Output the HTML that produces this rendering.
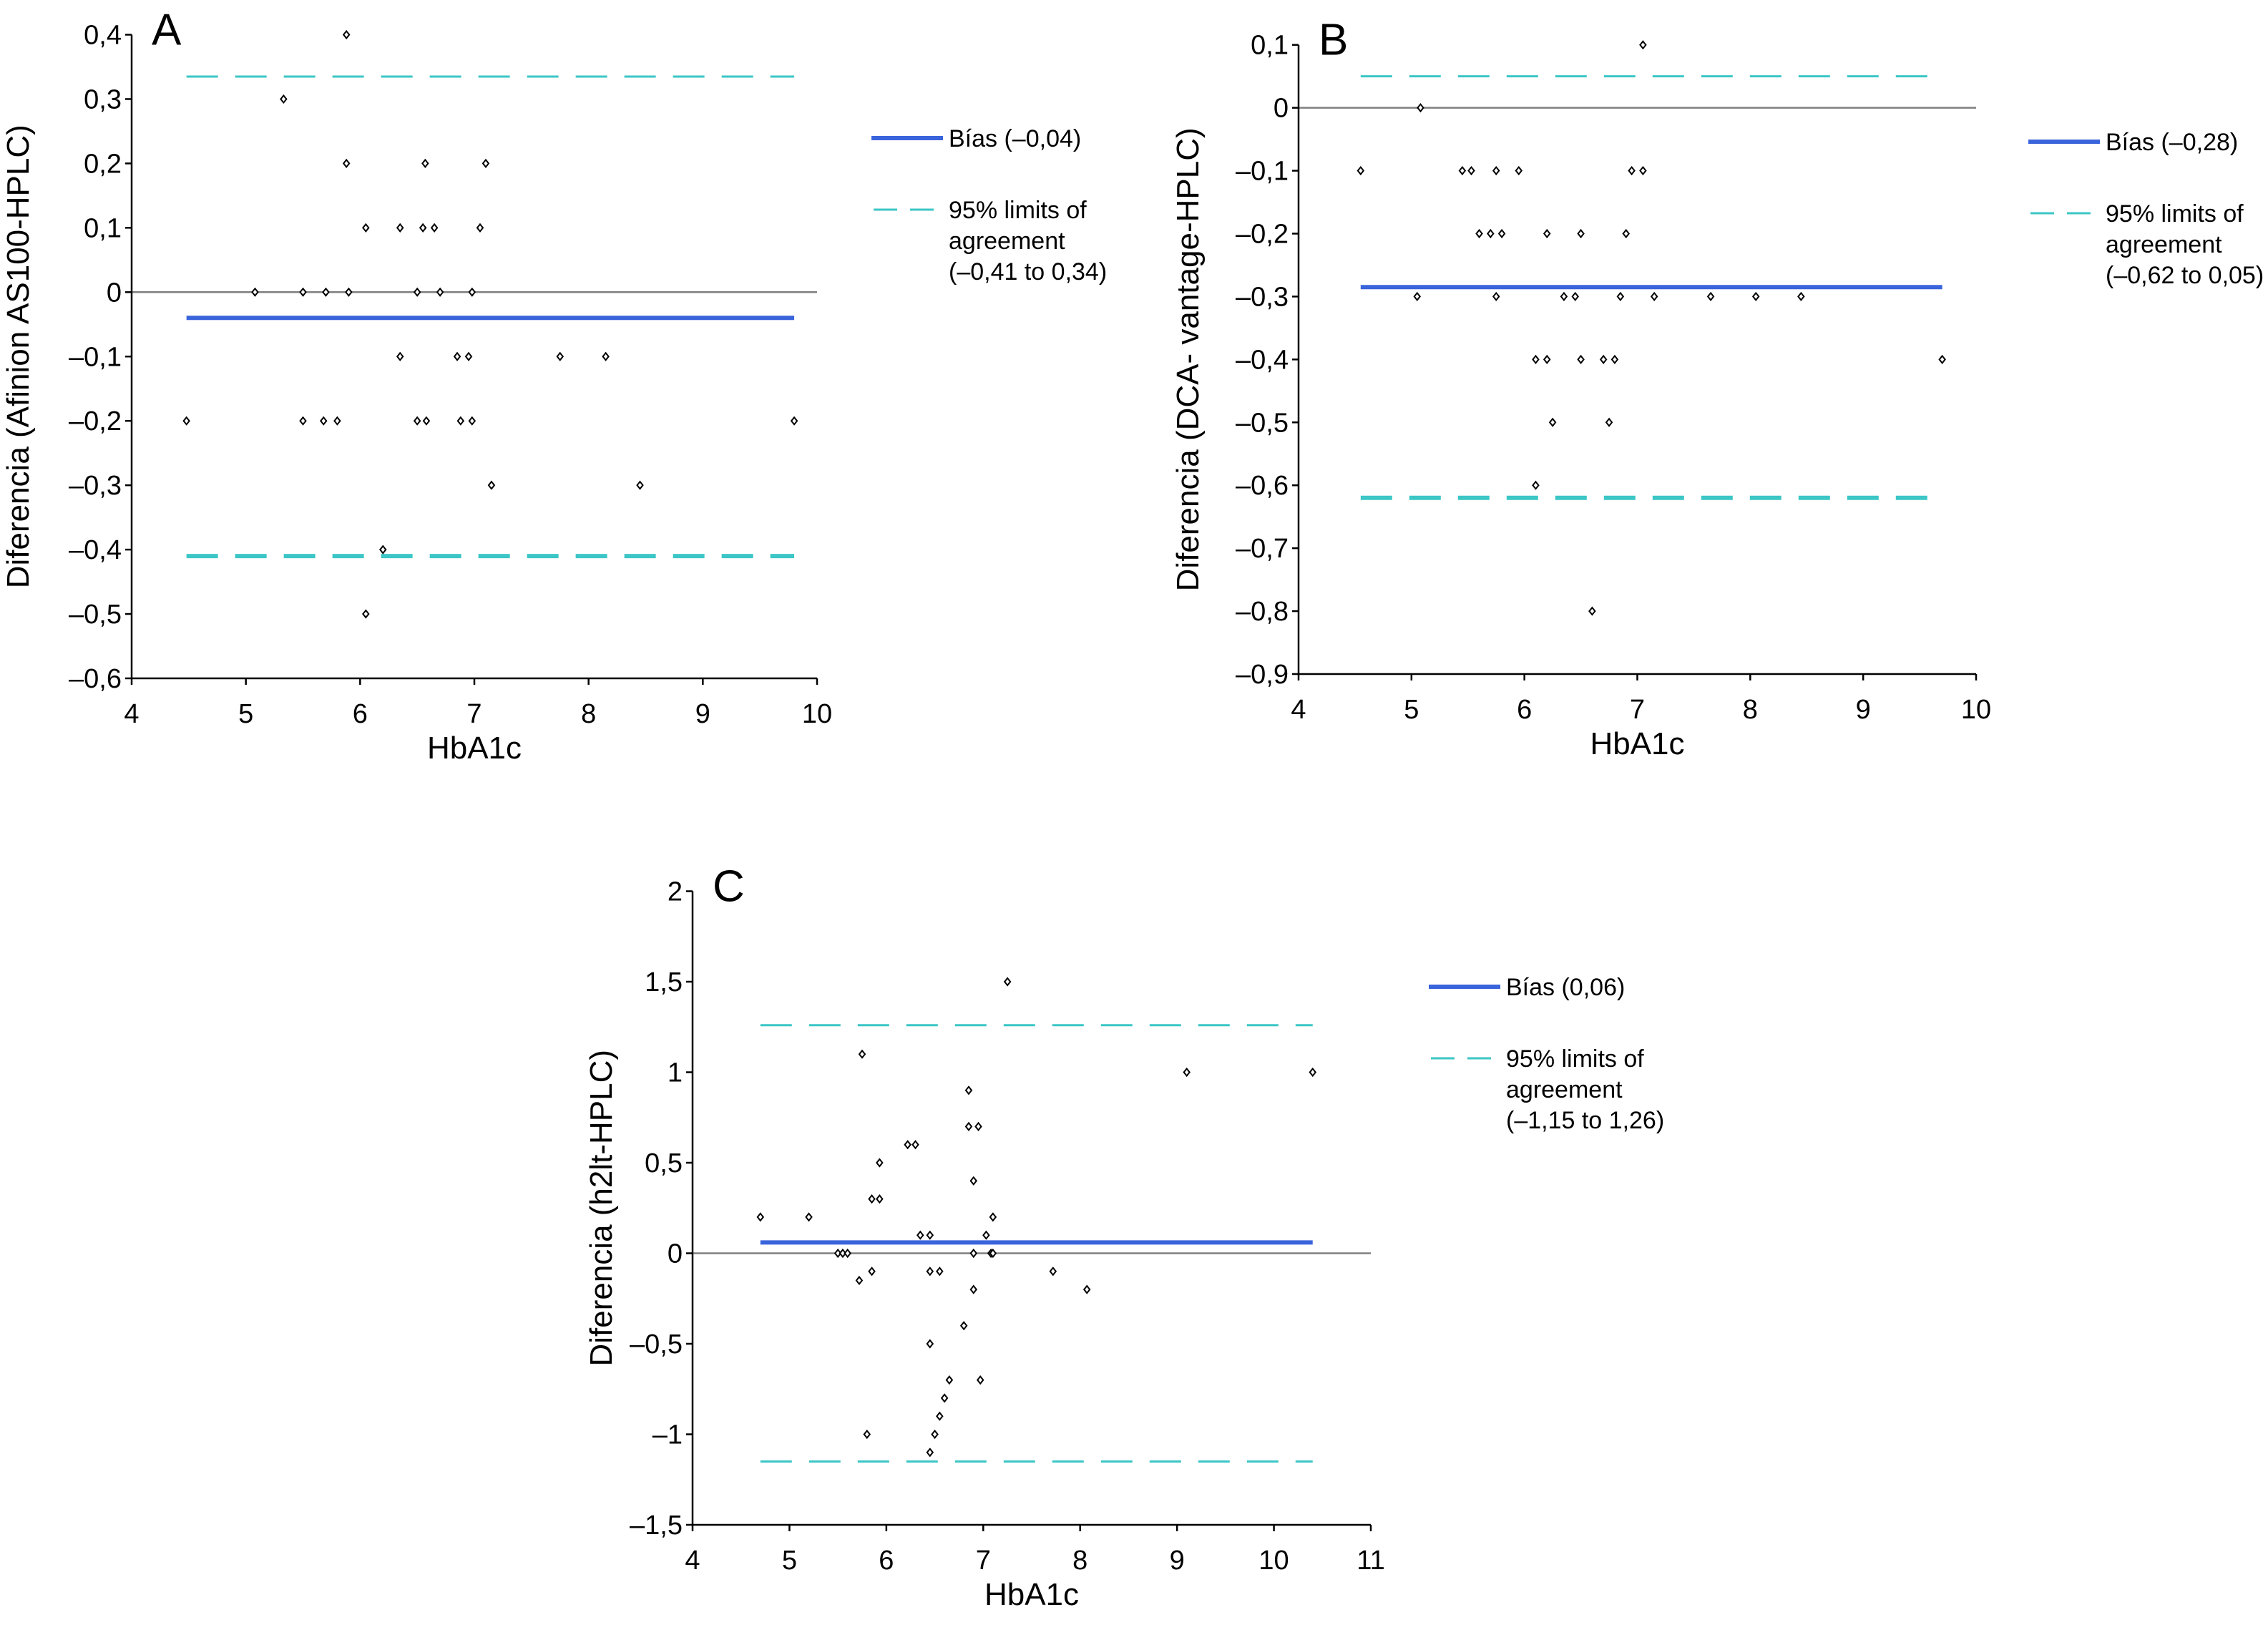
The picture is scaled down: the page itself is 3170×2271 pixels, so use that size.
<!DOCTYPE html>
<html><head><meta charset="utf-8"><style>
html,body{margin:0;padding:0;background:#fff;}
svg{display:block;font-family:"Liberation Sans",sans-serif;}
</style></head><body>
<svg id="fig" width="3170" height="2271" viewBox="0 0 3170 2271" xmlns="http://www.w3.org/2000/svg"></svg>
<script>
// Panel A data
const aX = [5.88,5.33,5.88,6.57,7.1,6.05,6.35,6.55,6.65,7.05,5.08,5.5,5.7,5.9,6.5,6.7,6.98,6.35,6.85,6.95,7.75,8.15,4.48,5.5,5.68,5.8,6.5,6.58,6.88,6.98,9.8,7.15,8.45,6.2,6.05];
const aY = [0.4,0.3,0.2,0.2,0.2,0.1,0.1,0.1,0.1,0.1,0,0,0,0,0,0,0,-0.1,-0.1,-0.1,-0.1,-0.1,-0.2,-0.2,-0.2,-0.2,-0.2,-0.2,-0.2,-0.2,-0.2,-0.3,-0.3,-0.4,-0.5];
const aStats = [-0.04,-0.41,0.335];
const aYTicks = [0.4,0.3,0.2,0.1,0,-0.1,-0.2,-0.3,-0.4,-0.5,-0.6];
const aXTicks = [4,5,6,7,8,9,10];
// Panel B data
const bX = [7.05,5.08,4.55,5.45,5.53,5.75,5.95,6.95,7.05,5.6,5.7,5.8,6.2,6.5,6.9,5.05,5.75,6.35,6.45,6.85,7.15,7.65,8.05,8.45,6.1,6.2,6.5,6.7,6.8,9.7,6.25,6.75,6.1,6.6];
const bY = [0.1,0,-0.1,-0.1,-0.1,-0.1,-0.1,-0.1,-0.1,-0.2,-0.2,-0.2,-0.2,-0.2,-0.2,-0.3,-0.3,-0.3,-0.3,-0.3,-0.3,-0.3,-0.3,-0.3,-0.4,-0.4,-0.4,-0.4,-0.4,-0.4,-0.5,-0.5,-0.6,-0.8];
const bStats = [-0.285,-0.62,0.05];
const bYTicks = [0.1,0,-0.1,-0.2,-0.3,-0.4,-0.5,-0.6,-0.7,-0.8,-0.9];
const bXTicks = [4,5,6,7,8,9,10];
// Panel C data
const cX = [7.25,5.75,9.1,10.4,6.85,6.85,6.95,6.22,6.3,5.93,5.85,5.93,6.9,4.7,5.2,7.1,6.35,6.45,7.03,5.5,5.55,5.6,6.9,7.08,7.1,5.85,6.45,6.55,7.72,5.72,6.9,8.07,6.8,6.45,6.65,6.97,6.6,6.55,5.8,6.5,6.45];
const cY = [1.5,1.1,1,1,0.9,0.7,0.7,0.6,0.6,0.5,0.3,0.3,0.4,0.2,0.2,0.2,0.1,0.1,0.1,0,0,0,0,0,0,-0.1,-0.1,-0.1,-0.1,-0.15,-0.2,-0.2,-0.4,-0.5,-0.7,-0.7,-0.8,-0.9,-1,-1,-1.1];
const cStats = [0.06,-1.15,1.26];
const cYTicks = [2,1.5,1,0.5,0,-0.5,-1,-1.5];
const cXTicks = [4,5,6,7,8,9,10,11];

const NS = "http://www.w3.org/2000/svg";
const svg = document.getElementById('fig');
function el(tag, attrs, parent){
  const e = document.createElementNS(NS, tag);
  for (const k in attrs) e.setAttribute(k, attrs[k]);
  (parent||svg).appendChild(e);
  return e;
}
function fmt(v){
  let s = String(Math.round(v*10)/10).replace('.',',');
  if (v < 0) s = '\u2013' + s.slice(1);
  return s;
}
function panel(cfg){
  const g = el('g', {});
  
  
  const sx = v => cfg.px0 + (v - cfg.xmin) / (cfg.xmax - cfg.xmin) * (cfg.px1 - cfg.px0);
  const sy = v => cfg.py0 + (cfg.ymax - v) / (cfg.ymax - cfg.ymin) * (cfg.py1 - cfg.py0);
  const z = el('line', {x1: cfg.px0, x2: sx(cfg.xmax), y1: sy(0), y2: sy(0), stroke: '#808080', 'stroke-width': 2.5}, g);
  
  
  const ya = el('line', {x1: cfg.px0, x2: cfg.px0, y1: cfg.py0, y2: cfg.py1, stroke: '#000', 'stroke-width': 2.5}, g);
  
  
  cfg.yticks.forEach(t => {
    el('line', {x1: cfg.px0 - 9, x2: cfg.px0, y1: sy(t), y2: sy(t), stroke: '#000', 'stroke-width': 2.5}, g);
    const tx = el('text', {x: cfg.px0 - 14, y: sy(t) + 13, 'font-size': 38, 'text-anchor': 'end'}, g);
    tx.textContent = fmt(t);
    
    
  });
  const xa = el('line', {x1: cfg.px0, x2: cfg.px1, y1: cfg.py1, y2: cfg.py1, stroke: '#000', 'stroke-width': 2.5}, g);
  
  
  cfg.xticks.forEach(t => {
    el('line', {x1: sx(t), x2: sx(t), y1: cfg.py1, y2: cfg.py1 + 9, stroke: '#000', 'stroke-width': 2.5}, g);
    const tx = el('text', {x: sx(t), y: cfg.py1 + 62, 'font-size': 38, 'text-anchor': 'middle'}, g);
    tx.textContent = t;
    
    
  });
  const xt = el('text', {x: (cfg.px0 + cfg.px1) / 2, y: cfg.py1 + 112, 'font-size': 44, 'text-anchor': 'middle'}, g);
  xt.textContent = 'HbA1c';
  
  
  const ytt = el('text', {x: 0, y: 0, 'font-size': 44, 'text-anchor': 'middle', transform: 'translate(' + cfg.ytx + ',' + (cfg.py0 + cfg.py1) / 2 + ') rotate(-90)'}, g);
  ytt.textContent = cfg.ytitle;
  
  
  const lt = el('text', {x: cfg.px0 + 28, y: cfg.py0 + 14, 'font-size': 62}, g);
  lt.textContent = cfg.letter;
  
  
  const lx0 = sx(cfg.lx[0]), lx1 = sx(cfg.lx[1]);
  const lo = el('line', {x1: lx0, x2: lx1, y1: sy(cfg.stats[1]), y2: sy(cfg.stats[1]), stroke: '#3cc6c6', 'stroke-width': cfg.loW, 'stroke-dasharray': '44 24'}, g);
  
  
  const hi = el('line', {x1: lx0, x2: lx1, y1: sy(cfg.stats[2]), y2: sy(cfg.stats[2]), stroke: '#3cc6c6', 'stroke-width': 3, 'stroke-dasharray': '44 24'}, g);
  
  
  const bl = el('line', {x1: lx0, x2: lx1, y1: sy(cfg.stats[0]), y2: sy(cfg.stats[0]), stroke: '#3a64dc', 'stroke-width': 6}, g);
  
  
  cfg.xs.forEach((xv, i) => {
    const cx = sx(xv), cy = sy(cfg.ys[i]);
    const p = el('path', {d: 'M' + cx + ' ' + (cy - 5) + 'L' + (cx + 4) + ' ' + cy + 'L' + cx + ' ' + (cy + 5) + 'L' + (cx - 4) + ' ' + cy + 'Z', fill: '#fff', stroke: '#000', 'stroke-width': 2}, g);
    
    
  });
  const L = cfg.leg;
  const l1 = el('line', {x1: L.x, x2: L.x + 100, y1: L.y, y2: L.y, stroke: '#3a64dc', 'stroke-width': 6}, g);
  
  
  const t1 = el('text', {x: L.x + 108, y: L.y + 12, 'font-size': 34}, g);
  t1.textContent = cfg.biasText;
  
  
  const l2 = el('line', {x1: L.x + 3, x2: L.x + 90, y1: L.y + 100, y2: L.y + 100, stroke: '#3cc6c6', 'stroke-width': 3, 'stroke-dasharray': '33 18'}, g);
  
  
  ['95% limits of', 'agreement', cfg.limText].forEach((s, i) => {
    const t = el('text', {x: L.x + 108, y: L.y + 112 + i * 43, 'font-size': 34}, g);
    t.textContent = s;
    
    
  });
}
panel({id:'a', letter:'A', xs:aX, ys:aY, stats:aStats, yticks:aYTicks, xticks:aXTicks,
  xmin:4, xmax:10, ymin:-0.6, ymax:0.4, px0:184, px1:1142, py0:48.5, py1:948,
  lx:[4.48,9.8], loW:6, ytx:40, ytitle:'Diferencia (Afinion AS100-HPLC)',
  leg:{x:1218, y:193}, biasText:'Bías (\u20130,04)', limText:'(\u20130,41 to 0,34)'});
panel({id:'b', letter:'B', xs:bX, ys:bY, stats:bStats, yticks:bYTicks, xticks:bXTicks,
  xmin:4, xmax:10, ymin:-0.9, ymax:0.1, px0:1815, px1:2762, py0:62.7, py1:942,
  lx:[4.55,9.7], loW:6, ytx:1675, ytitle:'Diferencia (DCA- vantage-HPLC)',
  leg:{x:2835, y:198}, biasText:'Bías (\u20130,28)', limText:'(\u20130,62 to 0,05)'});
panel({id:'c', letter:'C', xs:cX, ys:cY, stats:cStats, yticks:cYTicks, xticks:cXTicks,
  xmin:4, xmax:11, ymin:-1.5, ymax:2, px0:968, px1:1916, py0:1245.5, py1:2131,
  lx:[4.7,10.4], loW:3, ytx:855, ytitle:'Diferencia (h2lt-HPLC)',
  leg:{x:1997, y:1379}, biasText:'Bías (0,06)', limText:'(\u20131,15 to 1,26)'});
</script>
</body></html>
